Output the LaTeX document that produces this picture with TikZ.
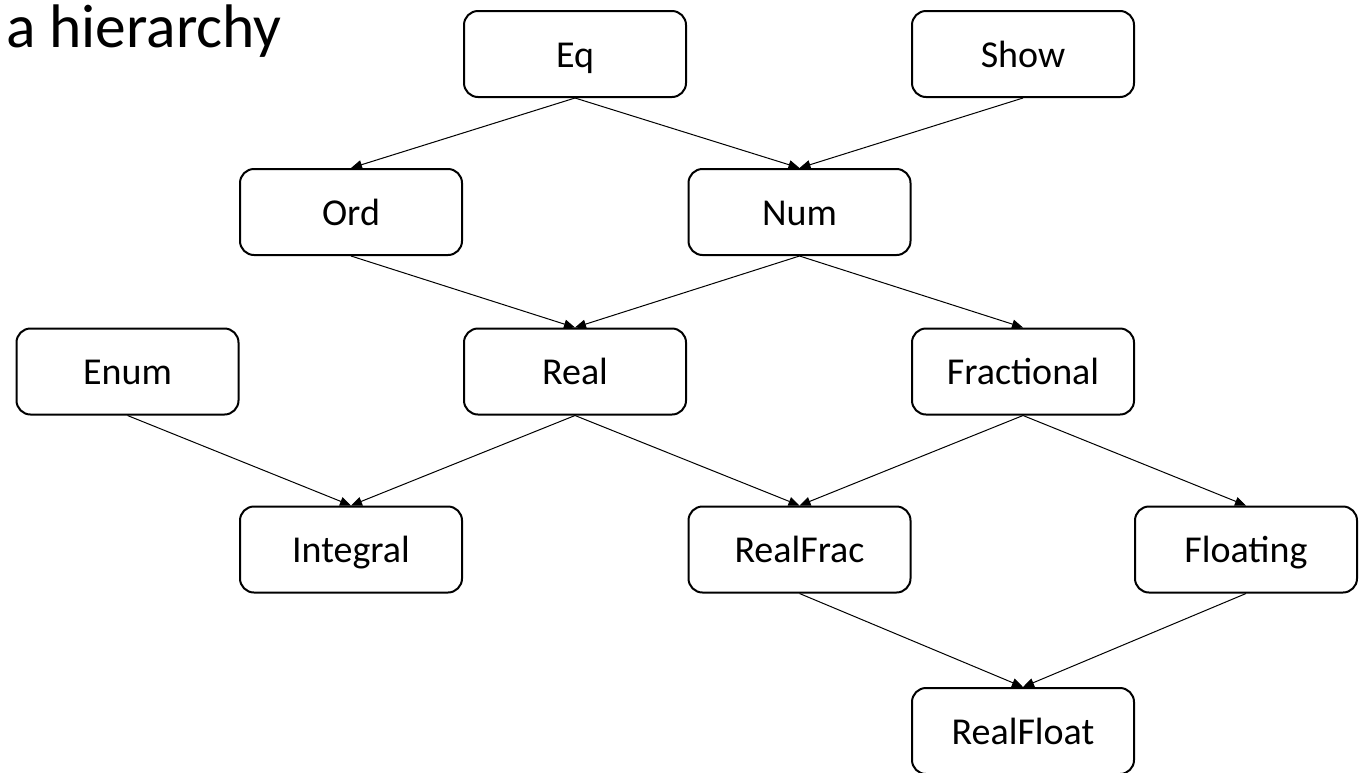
\documentclass[tikz,border=0pt]{standalone}
\usepackage{fontspec}
\setmainfont{Carlito}
\usetikzlibrary{arrows.meta}
\begin{document}
\begin{tikzpicture}[x=1pt,y=-1pt,
  cls/.style={draw=black,line width=2pt,rounded corners=14pt,fill=white,
    minimum width=222pt,minimum height=86pt,inner sep=0pt,
    text height=34pt,text depth=8pt,
    font=\fontsize{38}{42}\selectfont},
  link/.style={line width=1pt,-{Triangle[length=11pt,width=9pt]}}]
\useasboundingbox (0,0) rectangle (1368,772);
\node[anchor=base west,inner sep=0pt,font=\fontsize{61.5}{66}\selectfont] (title) at (6,47) {a hierarchy};
\node[cls] (eq) at (575,54) {Eq};
\node[cls] (show) at (1023,54) {Show};
\node[cls] (ord) at (351,212) {Ord};
\node[cls] (num) at (799.5,212) {Num};
\node[cls] (enum) at (127.5,371.5) {Enum};
\node[cls] (real) at (575,371.5) {Real};
\node[cls] (frac) at (1023,371.5) {Fractional};
\node[cls] (integral) at (351,549.5) {Integral};
\node[cls] (realfrac) at (799.5,549.5) {RealFrac};
\node[cls] (floating) at (1246,549.5) {Floating};
\node[cls] (realfloat) at (1023,731) {RealFloat};
\draw[link] (eq.south) -- (ord.north);
\draw[link] (eq.south) -- (num.north);
\draw[link] (show.south) -- (num.north);
\draw[link] (ord.south) -- (real.north);
\draw[link] (num.south) -- (real.north);
\draw[link] (num.south) -- (frac.north);
\draw[link] (enum.south) -- (integral.north);
\draw[link] (real.south) -- (integral.north);
\draw[link] (real.south) -- (realfrac.north);
\draw[link] (frac.south) -- (realfrac.north);
\draw[link] (frac.south) -- (floating.north);
\draw[link] (realfrac.south) -- (realfloat.north);
\draw[link] (floating.south) -- (realfloat.north);
\end{tikzpicture}
\end{document}
